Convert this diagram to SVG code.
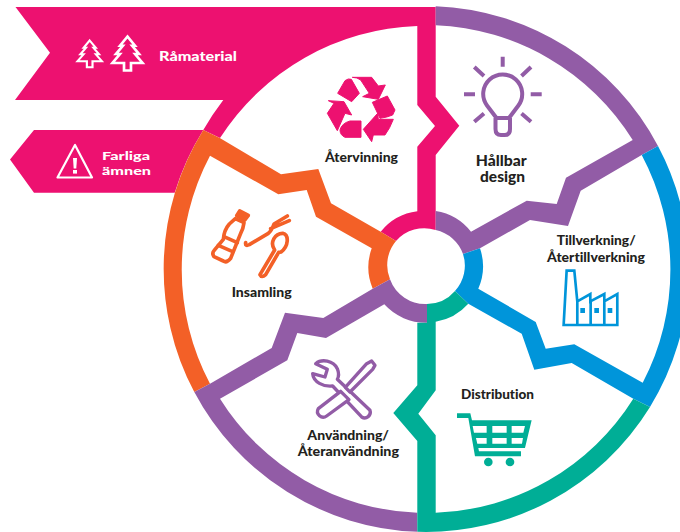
<svg xmlns="http://www.w3.org/2000/svg" width="680" height="532" viewBox="0 0 680 532">
<defs>
<style>
.pink{fill:#ED1170}.orange{fill:#F36027}.purple{fill:#925CA6}.blue{fill:#0095DA}.green{fill:#00AE96}
.lbl{font-family:"Lato","Noto Sans",sans-serif;font-weight:900;font-size:13px;fill:#231F20;font-variant-ligatures:none}
.wht{font-family:"Lato","Noto Sans",sans-serif;font-weight:900;font-size:14px;fill:#fff;font-variant-ligatures:none}
.line{fill:none;stroke-linejoin:round;stroke-linecap:round}
</style>
<path id="tree" d="M0 0 L13 17 H8 L20 32 H13 L26 48 H6 V62 H-6 V48 H-26 L-13 32 H-20 L-8 17 H-13 Z"/>
</defs>
<rect width="680" height="532" fill="#fff"/>
<g id="ring">
<path id="seg-ravara" class="pink" d="M15.5 7 L435.7 7 V96.7 L459.3 125.7 L435.7 155 V230 A37.5 37.5 0 0 0 396 241 L380.7 231.7 A56 56 0 0 1 417.3 211.3 V146.7 L435 126 L417.3 105 V26 A244 244 0 0 0 220 138 L203.3 130 A263 263 0 0 1 223.3 100 L15 100 L50 52.7 Z"/>
<path id="seg-farliga" class="pink" d="M34 130 L203.3 130 A263 263 0 0 0 174.7 192.7 L34 192.7 L10 159.5 Z"/>
<path id="seg-insamling" class="orange" d="M203.3 130 L219.8 138 L281 174.3 L318.3 169 L331 203.3 L380.7 231.7 L396 241 A37.5 37.5 0 0 0 390 279.3 L372.7 288.7 A56 56 0 0 1 371.7 248.3 L316 216.7 L306.7 190 L278.3 194.3 L210 155.7 A244 244 0 0 0 210 383.7 L194.3 392 A263 263 0 0 1 203.3 130 Z"/>
<path id="seg-design" class="purple" d="M435.7 6.2 A263 263 0 0 1 658 146 L641.7 155 L580.7 190.7 L568 226 L530 220 L480 248.3 L463 254 A37.5 37.5 0 0 0 435.7 230 V211 A56 56 0 0 1 471 231.7 L526.7 200.7 L556.7 204 L566 177.7 L632.7 140 A244 244 0 0 0 435.7 25.2 Z"/>
<path id="seg-tillverkning" class="blue" d="M658 146 A263 263 0 0 1 650 407 L633.3 398.7 L571.7 363 L534.3 369.7 L521.7 333.7 L468.3 303.7 L455 291 A37.5 37.5 0 0 0 463 254 L480 248.3 A56 56 0 0 1 478.3 288.7 L535.7 322 L545.7 348.7 L574.3 344.3 L642.7 382.7 A244 244 0 0 0 641.7 155 Z"/>
<path id="seg-anvandning" class="purple" d="M390 279.3 L372.7 288.7 L323.3 318 L285 312.7 L271.7 348 L210 383.7 L194.3 392 A263 263 0 0 0 417.3 531.8 V512.8 A244 244 0 0 1 220 398.7 L287.3 360.3 L297.3 333 L326 338 L384.3 304.3 A56 56 0 0 0 427 322.7 V304 A37.5 37.5 0 0 1 390 279.3 Z"/>
<path id="seg-distribution" class="green" d="M455 291 L468.3 303.7 A56 56 0 0 1 435.7 321.7 V390.3 L418.3 413.7 L435.7 435.3 V512.8 A244 244 0 0 0 633.3 398.7 L650 407 A263 263 0 0 1 417.3 531.8 V441 L393.3 413 L417.3 385.3 V322.7 H427 V304 A37.5 37.5 0 0 0 455 291 Z"/>
</g>
<g id="ramaterial">
<g fill="none" stroke="#fff" stroke-width="4.6" stroke-linejoin="miter">
<use href="#tree" transform="translate(89.7 40.5) scale(.47 .43)"/>
<use href="#tree" transform="translate(127.5 36.5) scale(.58 .55)"/>
</g>
<text class="wht" x="159" y="61" textLength="78" lengthAdjust="spacingAndGlyphs">Råmaterial</text>
</g>
<g id="farliga">
<path class="line" stroke="#fff" stroke-width="2.2" d="M75 145 L57.5 177.5 H92 Z"/>
<path fill="#fff" d="M73 158 H77 L76.3 168.5 H73.7 Z"/><rect x="73" y="170" width="4" height="3.6" fill="#fff"/>
<text class="wht" style="font-size:12px"><tspan x="102" y="160" textLength="48" lengthAdjust="spacingAndGlyphs">Farliga</tspan><tspan x="102" y="174.5" textLength="49" lengthAdjust="spacingAndGlyphs">ämnen</tspan></text>
</g>
<g id="atervinning">
<g class="pink" stroke="#ED1170" stroke-width="3" stroke-linejoin="round" transform="translate(310 60) scale(.3333)">
<path d="M83 100 L105 62 Q115 54 124 58 L148 100 L125 125 Z"/>
<path d="M127 52 H185 L205 78 L226 75 L205 118 L158 110 L178 100 L152 60 Q142 52 127 52 Z"/>
<path d="M187 127 L232 108 L255 150 L248 165 Q232 172 210 175 Z"/>
<path d="M250 178 H205 L203 160 L160 208 L185 245 L190 225 H225 Q240 205 250 178 Z"/>
<path d="M120 183 H153 V232 H105 Q90 225 90 210 Q95 190 120 183 Z"/>
<path d="M55 122 L102 125 L125 165 L105 160 L82 212 L52 160 L72 130 Z"/>
</g>
<text class="lbl" x="325" y="162" textLength="73" lengthAdjust="spacingAndGlyphs">Återvinning</text>
</g>
<g id="hallbar-design">
<g fill="none" stroke="#925CA6" stroke-width="4">
<path d="M502.7 56.7 V66.7 M464 94.3 H475 M530.7 94.3 H541.7 M474.3 67 L484 76 M531 67 L521.5 76 M484 113.5 L474.3 121.7 M521.5 113.5 L531 121.7"/>
<path stroke-linejoin="round" d="M496.5 118 L487 105.5 A19.5 19.5 0 1 1 518.4 105.5 L509 118 Z"/>
<path stroke-linejoin="round" d="M495.5 118 V129 Q495.5 135 501 135 H504.5 Q510 135 510 129 V118"/>
</g>
<text class="lbl" style="font-size:15px" x="475.7" y="165.7" textLength="51" lengthAdjust="spacingAndGlyphs">Hållbar</text>
<text class="lbl" style="font-size:15px" x="480" y="182" textLength="45" lengthAdjust="spacingAndGlyphs">design</text>
</g>
<g id="tillverkning">
<text class="lbl" x="556.7" y="245" textLength="79" lengthAdjust="spacingAndGlyphs">Tillverkning/</text>
<text class="lbl" x="547" y="262" textLength="98" lengthAdjust="spacingAndGlyphs">Återtillverkning</text>
<g transform="translate(340 262) scale(.3333)">
<path fill="none" stroke="#0095DA" stroke-width="8" stroke-linejoin="miter" d="M680 26 H703 L712 118 L751 96 V118 L793 96 V118 L832 96 V189 H671 Z M712 118 V189 M752 118 V189 M793 118 V189"/>
<path class="blue" d="M721 138 h14 v15 h-14 z M763 138 h14 v15 h-14 z M803 138 h14 v15 h-14 z"/>
</g>
</g>
<g id="distribution">
<text class="lbl" x="461" y="399.3" textLength="73" lengthAdjust="spacingAndGlyphs">Distribution</text>
<g transform="translate(340 262) scale(.3333)">
<path class="green" fill-rule="evenodd" d="M351 454 H391 L396 475 H575 L555 558 H415 L417 568 H543 V583 H405 L385 468 H351 Z M398 492 L402 512 H440 V492 Z M457 492 V512 H500 V492 Z M515 492 V512 H550 L555 492 Z M408 528 L412 545 H440 V528 Z M457 528 V545 H500 V528 Z M515 528 V545 H546 L549 528 Z"/>
<circle class="green" cx="445" cy="600" r="13"/><circle class="green" cx="510" cy="600" r="13"/>
</g>
</g>
<g id="anvandning">
<g transform="translate(150 262) scale(.3333)" fill="none" stroke="#925CA6" stroke-width="10" stroke-linejoin="round">
<path d="M548 372 C520 375 490 360 488 335 L525 345 L532 322 L497 305 C515 290 550 295 562 320 C568 335 566 345 562 352 L660 445 A17 17 0 0 1 635 465 Z"/>
<path fill="#fff" d="M572 388 L597 413 L530 462 A17 17 0 0 1 505 440 Z"/>
<path fill="#fff" d="M650 305 L665 297 L675 310 L668 322 L600 390 L586 376 Z"/>
</g>
<text class="lbl" x="307.3" y="439.7" textLength="81.7" lengthAdjust="spacingAndGlyphs">Användning/</text>
<text class="lbl" x="297.7" y="456.3" textLength="101.3" lengthAdjust="spacingAndGlyphs">Återanvändning</text>
</g>
<g id="insamling">
<g transform="translate(200 200) scale(.3333)" fill="none" stroke="#F36027" stroke-width="11" stroke-linejoin="round" stroke-linecap="round">
<path fill="#F36027" d="M119 33 L145 46 L134 60 L110 47 Z"/>
<path d="M106 56 L132 68 Q130 85 122 100 L92 175 Q80 190 70 183 L42 170 Q35 160 42 152 L70 118 Q72 90 88 72 Z"/>
<path d="M72 110 L112 128 M55 136 L98 155"/>
<path d="M137 128 Q135 140 148 134 L205 100 Q215 92 222 72 L262 48 M212 86 L268 62"/>
<path d="M224 150 C208 128 225 100 248 100 C268 105 266 138 243 156 L236 157 L197 224 Q185 235 180 224 Z"/>
</g>
<text class="lbl" x="231.7" y="297" textLength="60" lengthAdjust="spacingAndGlyphs">Insamling</text>
</g>
</svg>
